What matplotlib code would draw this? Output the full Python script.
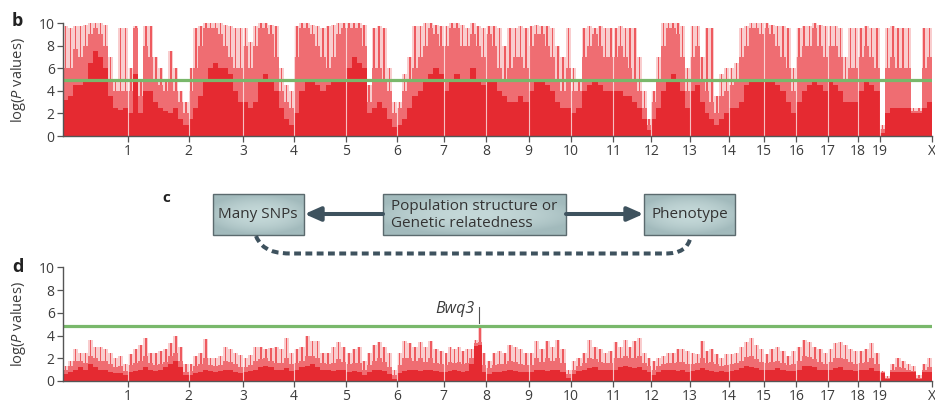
import numpy as np
import matplotlib
matplotlib.use('Agg')
import matplotlib.pyplot as plt
from matplotlib.colors import LinearSegmentedColormap
from matplotlib.patches import Rectangle, FancyArrowPatch, PathPatch
from matplotlib.path import Path

plt.rcParams['font.family'] = ['Open Sans', 'DejaVu Sans']
plt.rcParams['mathtext.fontset'] = 'custom'
plt.rcParams['mathtext.it'] = 'Open Sans:italic'
plt.rcParams['mathtext.rm'] = 'Open Sans'

# chromosome names and (approximate) lengths in Mb
chrom_names = ['1', '2', '3', '4', '5', '6', '7', '8', '9', '10', '11', '12',
               '13', '14', '15', '16', '17', '18', '19', 'X']
chrom_len = [197, 182, 164, 155, 158, 152, 142, 128, 128, 128, 128, 115,
             116, 118, 106, 97, 96, 91, 65, 158]

# panel b: -log P profile along each chromosome (solid level, dense level, peak level)
b_base = [[3.2, 3.5, 4.5, 4.5, 5, 6.5, 7.5, 7, 6, 3.5, 2.5, 2.3, 2.5],
          [2, 5.5, 2, 4, 4, 3, 2.5, 2.2, 2, 2.5, 1.5, 1],
          [1.5, 2.5, 3.5, 5, 6, 6.5, 6, 6, 5.5, 4, 3],
          [3, 2.5, 3, 5, 5.5, 5, 4, 2.5, 1.5, 1],
          [2, 4, 5, 5, 4.5, 4, 4.5, 5, 5, 5],
          [6, 7, 6.5, 6, 2, 2.5, 3, 2.5, 1.5, 0.8],
          [1, 1.5, 2.5, 3.5, 4, 5, 5.5, 6, 5.5],
          [4, 5, 5.5, 5, 5, 6, 5, 4.5],
          [5, 5, 4, 3.5, 3, 3, 3.5, 3],
          [4, 5, 5, 4.5, 4, 3, 2.5, 2.5],
          [2, 2.5, 4, 4.5, 5, 4.5, 4, 4],
          [4, 4, 3.5, 3.5, 3, 2.5, 1.5, 0.5],
          [1.5, 2.5, 4, 5, 5.5, 5, 4, 2.5],
          [4, 4.5, 3, 2, 1.5, 1, 1.5, 2],
          [2.5, 2.5, 3, 4.5, 5, 5, 5],
          [5, 5, 4.5, 4, 3, 2],
          [3, 4, 4.5, 5, 4.5, 4],
          [5, 4.5, 4, 3, 3, 3],
          [4, 5, 4.5, 4],
          [0.3, 2, 2.5, 2.5, 2.5, 2.5, 2, 2, 2.5, 3]]
b_fill = [[6, 6, 7.7, 7, 8, 9, 9.6, 9, 8, 5, 4, 4, 4],
          [4, 9.6, 3.5, 8, 7, 5, 4.5, 4, 5, 4, 3, 2],
          [4, 6, 8, 9.6, 9.6, 9.6, 9, 8, 7, 6, 6],
          [8, 6, 8, 9.6, 9.6, 9, 7, 4, 3, 2.5],
          [7, 9.6, 9.6, 9, 8, 7, 6, 7, 9, 9.6],
          [9.6, 9.6, 9.6, 8, 3, 6, 6, 5, 4, 2],
          [2.5, 4, 5, 6, 7, 8, 9.6, 9, 8],
          [8, 9.6, 9.6, 8, 8, 9, 8, 7],
          [9, 8, 6, 5, 6, 7, 7, 6],
          [8, 9, 9, 8, 7, 5, 4, 6],
          [4, 4, 7, 8, 9, 8, 7, 7],
          [7, 8, 7, 6, 5, 4, 2.5, 1],
          [3, 5, 8, 9.6, 9.6, 9, 7, 4],
          [7, 8, 5, 4, 3, 2, 3.5, 4],
          [4.5, 5, 7, 8, 9.6, 9.6, 9],
          [9.6, 9, 8, 7, 6, 4],
          [7, 8, 8, 9.6, 8, 7],
          [8, 8, 7, 5, 6, 6],
          [7, 8, 7, 6],
          [0.6, 6, 7, 6, 6, 6, 2.2, 2.2, 6, 7]]
b_top = [[9.7, 9.6, 9.7, 9.7, 9.8, 10, 10, 10, 9.8, 7, 5, 9.6, 9.6],
         [6, 9.7, 5, 9.7, 9.7, 7, 6, 5, 7.5, 6, 4, 3],
         [6, 9.6, 9.7, 10, 10, 10, 10, 9.8, 9.7, 9.6, 9.6],
         [9.6, 8.3, 9.7, 10, 10, 9.8, 9.7, 6, 4.5, 4],
         [9.7, 10, 10, 9.8, 9.7, 9.6, 9.7, 9.8, 10, 10],
         [10, 10, 10, 9.8, 4.5, 9.6, 9.7, 9.6, 6, 3],
         [3, 5.5, 7, 9.7, 9.7, 10, 10, 9.8, 9.7],
         [9.7, 10, 10, 9.8, 9.6, 10, 9.7, 9.6],
         [9.7, 9.7, 9.6, 8, 9.6, 9.6, 9.7, 9.6],
         [9.7, 9.8, 9.7, 9.7, 9.6, 8, 7, 9.6],
         [6, 5, 9.6, 9.7, 9.6, 9.7, 9.6, 9.6],
         [9.6, 9.7, 9.6, 9.6, 9.6, 7, 4, 1.5],
         [4, 7, 10, 10, 10, 10, 9.7, 6],
         [9.7, 9.7, 7, 9.6, 9.6, 3.5, 5.5, 6],
         [6, 6.5, 9.6, 9.7, 10, 10, 10],
         [10, 9.8, 9.7, 9.7, 9.6, 6],
         [9.6, 9.7, 9.7, 10, 9.8, 9.7],
         [9.7, 9.7, 9.6, 7, 9.6, 9.6],
         [9.6, 9.7, 9.6, 9.6],
         [1, 9.6, 9.7, 9.6, 9.6, 9.6, 2.5, 2.5, 9.6, 9.6]]

# panel d: same after correcting for population structure
d_base = [[0.6, 0.8, 1, 1.2, 1, 1.5, 1.2, 1, 1, 0.8, 0.7, 0.7, 0.5],
          [0.8, 0.9, 1, 1.2, 1, 0.9, 1, 1.2, 1.5, 1.8, 1.2, 0.5],
          [0.5, 0.7, 0.8, 1, 0.9, 0.8, 0.9, 1, 1, 0.8, 0.7],
          [0.8, 0.9, 1, 1.2, 1.3, 1.2, 1, 1, 1.1, 0.9],
          [1, 1.2, 1.3, 1.5, 1.2, 1, 1, 0.9, 1, 1],
          [0.8, 0.9, 0.8, 0.5, 0.8, 1, 1, 0.9, 0.6, 0.2],
          [0.7, 0.9, 1, 1, 0.9, 1, 1, 0.9, 0.8],
          [0.8, 0.9, 1, 0.9, 0.8, 0.9, 1.5, 3.1, 3.2, 0.8],
          [0.6, 0.8, 0.8, 0.9, 1, 0.9, 0.8, 0.8],
          [0.8, 1, 1, 0.9, 1, 1, 0.8, 0.3],
          [0.6, 0.9, 1, 1.1, 1.2, 1, 1, 1],
          [1, 1.2, 1.3, 1.2, 1.1, 1.2, 1, 0.8],
          [0.5, 0.8, 1, 1, 1, 0.9, 1, 0.8],
          [0.9, 1, 1.1, 1, 0.9, 0.8, 0.9, 0.8],
          [0.9, 1, 1.1, 1.3, 1.2, 1.1, 1],
          [1, 1, 1.1, 1, 0.9, 0.9],
          [1, 1.3, 1.3, 1.2, 1, 1],
          [1, 1.1, 1.2, 1, 1, 0.9],
          [1, 1, 1.1, 0.9],
          [0.7, 0.2, 0.8, 0.8, 0.8, 0.8, 0.8, 0.2, 0.8, 0.8]]
d_fill = [[1, 1.3, 1.8, 1.8, 1.6, 2.2, 2, 1.8, 1.8, 1.5, 1.2, 1.3, 0.9],
          [1.4, 1.6, 1.8, 2.2, 1.6, 1.4, 1.5, 1.7, 2.2, 2.5, 1.8, 0.8],
          [0.9, 1.3, 1.5, 2, 1.4, 1.3, 1.4, 1.8, 1.7, 1.5, 1.2],
          [1.2, 1.4, 1.8, 1.9, 2, 1.8, 1.6, 1.6, 2, 1.5],
          [1.6, 1.8, 2.2, 2.2, 2, 1.6, 1.5, 1.6, 1.9, 1.7],
          [1.5, 1.6, 1.6, 1, 1.4, 1.8, 2, 1.7, 1.2, 0.5],
          [1.4, 2, 2, 1.8, 2, 1.7, 2, 1.6, 1.5],
          [1.4, 1.7, 1.6, 1.7, 1.5, 1.6, 2, 3.3, 3.4, 1.4],
          [1.1, 1.4, 1.5, 1.5, 1.8, 1.7, 1.5, 1.4],
          [1.4, 2, 1.7, 2, 1.8, 2, 1.6, 0.6],
          [1, 1.3, 1.6, 2, 1.9, 1.7, 1.6, 1.6],
          [2, 2, 2.2, 2, 2, 2.2, 1.6, 1.3],
          [1, 1.3, 1.5, 1.6, 1.6, 1.7, 1.7, 1.5],
          [1.5, 1.6, 2, 1.6, 1.7, 1.5, 1.3, 1.4],
          [1.5, 1.6, 1.8, 2.1, 2.2, 1.9, 1.7],
          [1.6, 1.7, 1.8, 1.6, 1.4, 1.5],
          [1.8, 2.2, 2.1, 1.9, 1.7, 1.5],
          [1.7, 2, 2, 1.9, 1.7, 1.5],
          [1.6, 1.7, 2, 1.5],
          [0.8, 0.3, 1, 1.2, 1.1, 1, 0.9, 0.3, 1, 1.2]]
d_top = [[1.3, 1.8, 2.8, 2.5, 2.5, 3.6, 3, 3, 2.8, 2.5, 2, 2.2, 1.5],
         [2.4, 2.8, 3.2, 3.8, 2.5, 2.5, 2.6, 2.8, 3.3, 4, 3, 1.5],
         [1.5, 2.2, 2.5, 3.7, 2, 2, 2.2, 3, 2.8, 2.5, 2.3],
         [2, 2.3, 3, 3, 2.8, 2.9, 3, 2.8, 3.8, 2.5],
         [2.8, 3, 4, 3.5, 3.5, 2.5, 2.5, 3, 3.4, 3],
         [2.5, 2.8, 3, 1.8, 2.5, 3.2, 3.4, 3, 2.5, 1],
         [2.5, 3.5, 3.3, 3, 3.4, 3, 3.5, 2.8, 2.6],
         [2.5, 3, 2.8, 3, 2.6, 2.8, 2.8, 3.6, 4.7, 2.5],
         [1.8, 2.5, 2.6, 2.5, 3.2, 3, 2.8, 2.5],
         [2.5, 3.5, 2.8, 3.5, 3, 3.6, 2.8, 1],
         [1.8, 2, 2.5, 3.6, 3, 2.8, 2.5, 2.6],
         [3.4, 3, 3.6, 3, 3.5, 3.8, 2.5, 2],
         [1.8, 2, 2.2, 2.5, 2.5, 2.8, 2.8, 2.6],
         [2.5, 2.4, 3.5, 2.6, 2.8, 2.4, 2, 2.4],
         [2.4, 2.5, 3, 3.4, 3.8, 3.2, 2.8],
         [2.4, 2.8, 3, 2.6, 2.2, 2.6],
         [3, 3.6, 3.4, 3, 2.8, 2.5],
         [2.8, 3.3, 3.4, 3.2, 2.8, 2.6],
         [2.6, 2.8, 3.3, 2.5],
         [0.9, 0.4, 1.5, 2, 1.8, 1.5, 1.3, 0.5, 1.5, 2]]

b_threshold = 5.0
d_threshold = 4.85

base_c = '#e52a31'
fill_c = '#ef6d72'
haze_c = '#f9cdce'
spike_c = '#ee5a5f'
green = '#79b86b'
ink = '#3c3c3c'
slate = '#3e525e'


def manhattan(ax, base, fill, top, threshold):
    ends = np.cumsum(chrom_len)
    starts = ends - np.array(chrom_len)
    for s, L, b, f, t in zip(starts, chrom_len, base, fill, top):
        n = len(b)
        w = L / n
        x = s + (np.arange(n) + 0.5) * w
        ax.bar(x, t, width=w, color=haze_c, lw=0)
        ax.bar(x, t, width=w * 0.3, color=spike_c, lw=0)
        ax.bar(x, f, width=w, color=fill_c, lw=0)
        ax.bar(x, b, width=w, color=base_c, lw=0)
    ax.vlines(ends[:-1], 0, 10, color='white', lw=0.8, alpha=0.7)
    ax.axhline(threshold, color=green, lw=2.3)
    ax.set_xlim(0, ends[-1])
    ax.set_ylim(0, 10)
    ax.set_xticks(ends)
    ax.set_xticklabels(chrom_names)
    ax.set_yticks([0, 2, 4, 6, 8, 10])
    for side in ['top', 'right']:
        ax.spines[side].set_visible(False)
    for side in ['left', 'bottom']:
        ax.spines[side].set_color('#555555')
        ax.spines[side].set_linewidth(1.0)
    ax.tick_params(direction='out', length=4, width=0.9, color='#555555',
                   labelsize=10, labelcolor=ink)
    ax.tick_params(axis='x', pad=1.5)
    ax.tick_params(axis='y', pad=2)


W, H = 935, 403
fig = plt.figure(figsize=(W / 100, H / 100), dpi=100, facecolor='white')

ax_b = fig.add_axes([63 / W, 1 - 136 / H, 869 / W, 113 / H])
manhattan(ax_b, b_base, b_fill, b_top, b_threshold)

ax_d = fig.add_axes([63 / W, 1 - 381 / H, 869 / W, 113.7 / H])
manhattan(ax_d, d_base, d_fill, d_top, d_threshold)

# overlay in pixel coordinates for labels and the diagram
ov = fig.add_axes([0, 0, 1, 1])
ov.set_axis_off()

ylab = r'log($\mathit{P}$ values)'
ov.text(19, 80, ylab, rotation=90, ha='center', va='center', fontsize=10.5, color=ink)
ov.text(19, 324, ylab, rotation=90, ha='center', va='center', fontsize=10.5, color=ink)

ov.text(12, 21, 'b', fontsize=13, fontweight='bold', ha='left', va='center', color='#222222')
ov.text(12, 267, 'd', fontsize=13, fontweight='bold', ha='left', va='center', color='#222222')
ov.text(162, 198, 'c', fontsize=11, fontweight='bold', ha='left', va='center', color='#222222')

# Bwq3 marker
ov.text(475, 313, 'Bwq3', fontsize=11.5, style='italic', ha='right', va='baseline', color=ink)
ov.plot([479, 479], [307, 323], color='#555555', lw=0.8)

# boxes
box_cmap = LinearSegmentedColormap.from_list('box', ['#c4d8d8', '#a2babc'])
U, V = np.meshgrid(np.linspace(-1, 1, 80), np.linspace(-1, 1, 30))
grad = np.clip(np.hypot(U * 0.85, V), 0, 1) ** 2
boxes = [(212.5, 304, 'Many SNPs', 'center'),
         (383, 566, 'Population structure or\nGenetic relatedness', 'left'),
         (644, 735, 'Phenotype', 'center')]
y0, y1 = 194, 235
for x0, x1, label, ha in boxes:
    ov.imshow(grad, cmap=box_cmap, extent=(x0, x1, y1, y0), aspect='auto',
              interpolation='bilinear', zorder=1)
    ov.add_patch(Rectangle((x0, y0), x1 - x0, y1 - y0, fill=False,
                           edgecolor='#5b6a6e', lw=1.0, zorder=2))
    tx = (x0 + x1) / 2 if ha == 'center' else x0 + 8
    ov.text(tx, (y0 + y1) / 2 + 0.5, label, ha=ha, va='center', fontsize=11,
            color='#333333', linespacing=1.1, zorder=3)

# arrows from the middle box
for xa, xb in [(383, 304.5), (566, 643.5)]:
    ov.add_patch(FancyArrowPatch((xa, 214), (xb, 214),
                                 arrowstyle='-|>,head_length=0.95,head_width=0.42',
                                 mutation_scale=10, lw=2.9, color=slate,
                                 shrinkA=0, shrinkB=0, zorder=2))

# dashed connection
verts = [(256, 236), (262, 251), (276, 253.5), (292, 253.5),
         (665, 253.5),
         (680, 253.5), (688, 249), (691, 236)]
codes = [Path.MOVETO, Path.CURVE4, Path.CURVE4, Path.CURVE4,
         Path.LINETO,
         Path.CURVE4, Path.CURVE4, Path.CURVE4]
ov.add_patch(PathPatch(Path(verts, codes), fill=False, edgecolor=slate, lw=2.9,
                       linestyle=(0, (1.7, 1.1)), zorder=2))

ov.set_xlim(0, W)
ov.set_ylim(H, 0)

fig.savefig('out.png', dpi=100, facecolor='white')
